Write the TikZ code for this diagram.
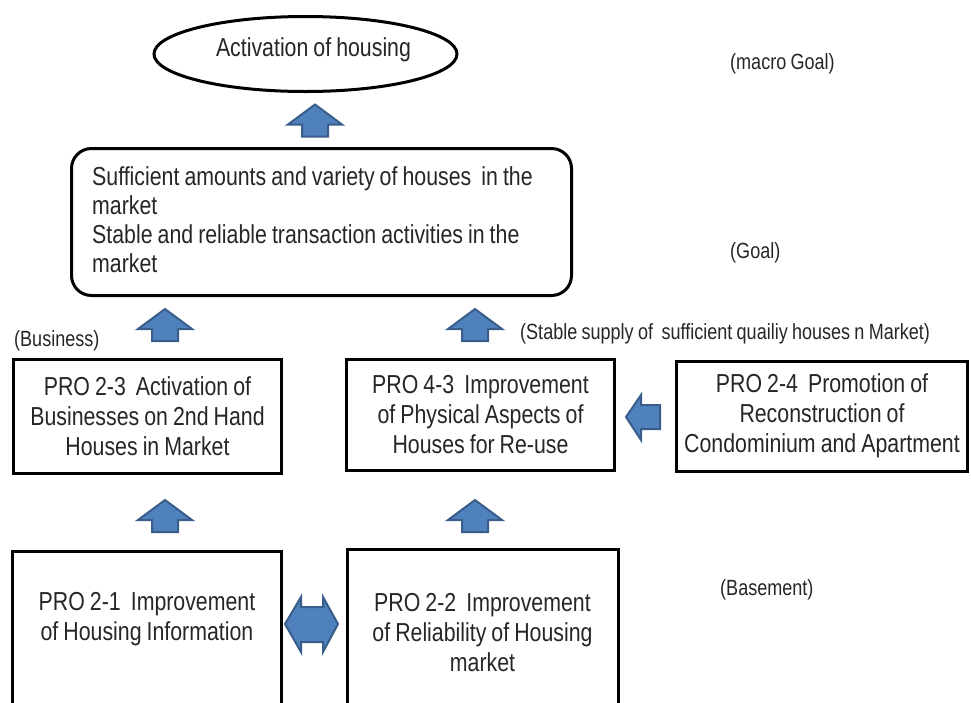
\documentclass[tikz,border=0pt]{standalone}
\usepackage{fontspec}
\setmainfont{Liberation Sans}[FakeStretch=0.82, WordSpace=0.85]
\usetikzlibrary{
  positioning,
  shapes.geometric
}
\definecolor{arrowfill}{RGB}{79,129,189}
\definecolor{arrowline}{RGB}{56,93,138}
\definecolor{textgray}{RGB}{38,38,38}
\tikzset{
  probox/.style={draw=black, line width=3pt, align=center, inner sep=0pt,
    font=\fontsize{26}{30}\selectfont, text=textgray},
  protext/.style={align=center, inner sep=0pt,
    font=\fontsize{26}{30}\selectfont, text=textgray},
  tagtext/.style={anchor=west, inner sep=0pt,
    font=\fontsize{22}{25}\selectfont, text=textgray},
  blockarrow/.style={fill=arrowfill, draw=arrowline, line width=2pt}
}
\newcommand{\upArrow}[3]{%
  \begin{scope}[shift={(#1,#2)}]
    \coordinate (#3) at (0,0);
    \filldraw[blockarrow] (0,-16) -- (27,4) -- (13,4) -- (13,16)
      -- (-13,16) -- (-13,4) -- (-27,4) -- cycle;
  \end{scope}
}

\begin{document}
\begin{tikzpicture}[x=1pt, y=-1pt]
  \useasboundingbox (0,0) rectangle (971,702);
  \clip (0,0) rectangle (971,702);

  % -- macro goal --
  \node[probox, ellipse, minimum width=303pt, minimum height=75pt]
    (macro) at (305.5,54) {};
  \node[protext, anchor=base] (macrotext) at (313.5,56.5) {Activation of housing};
  \node[tagtext] (macrotag) at (730,64) {(macro Goal)};

  % -- goal --
  \node[probox, rounded corners=20pt, minimum width=500pt, minimum height=147pt]
    (goal) at (321.5,222) {};
  \node[protext, align=left, anchor=north west, font=\fontsize{26}{29}\selectfont]
    (goaltext) at (92,166.5)
    {Sufficient amounts and variety of houses\ \ in the\\
     market\\
     Stable and reliable transaction activities in the\\
     market};
  \node[tagtext] (goaltag) at (730,253) {(Goal)};

  % -- business level --
  \node[tagtext] (bustag) at (14,341) {(Business)};
  \node[tagtext] (supplytag) at (520,334)
    {(Stable supply of\ \ sufficient quailiy houses n Market)};
  \node[probox, minimum width=268pt, minimum height=114pt] (p23) at (147.5,416.5)
    {PRO 2-3\ \ Activation of\\Businesses on 2nd Hand\\Houses in Market};
  \node[probox, minimum width=268pt, minimum height=111pt] (p43) at (480.5,415)
    {PRO 4-3\ \ Improvement\\of Physical Aspects of\\Houses for Re-use};
  \node[probox, minimum width=291pt, minimum height=110pt] (p24) at (822,416)
    {PRO 2-4\ \ Promotion of\\Reconstruction of\\Condominium and Apartment};

  % -- basement --
  \node[tagtext] (basetag) at (720,590) {(Basement)};
  \node[probox, minimum width=269pt, minimum height=200pt, anchor=north]
    (p21) at (147,549.5) {};
  \node[probox, minimum width=271pt, minimum height=200pt, anchor=north]
    (p22) at (482.5,548) {};
  \node[protext, anchor=north, below=43pt of p21.north] (p21text)
    {PRO 2-1\ \ Improvement\\of Housing Information};
  \node[protext, anchor=north, below=45pt of p22.north] (p22text)
    {PRO 2-2\ \ Improvement\\of Reliability of Housing\\market};

  % -- block arrows --
  \foreach \ax/\ay/\an in {315/120.5/upone, 165/325/uptwo, 475/325/upthree,
                           165/516/upfour, 475/516/upfive} {
    \upArrow{\ax}{\ay}{\an}
  }
  \filldraw[blockarrow] (626,417) -- (641,395) -- (641,405) -- (660,405)
    -- (660,429) -- (641,429) -- (641,440) -- cycle;
  \filldraw[blockarrow] (285,624) -- (301,597) -- (301,607) -- (323,607)
    -- (323,597) -- (338,624) -- (323,652) -- (323,642) -- (301,642)
    -- (301,652) -- cycle;

\end{tikzpicture}
\end{document}
